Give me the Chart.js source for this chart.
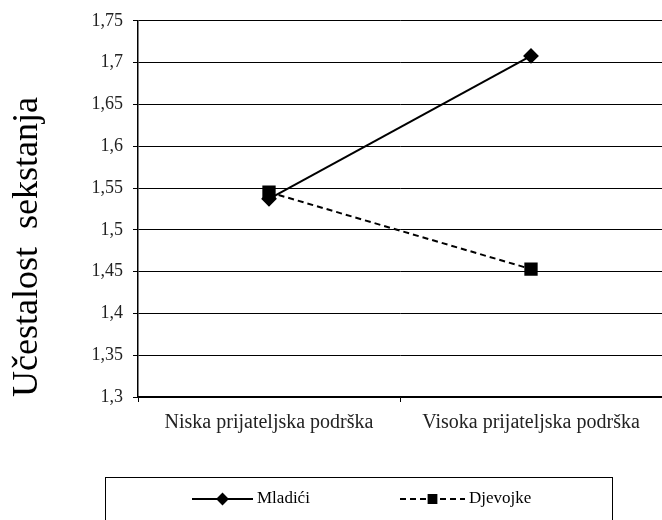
<!DOCTYPE html>
<html>
<head>
<meta charset="utf-8">
<script src="https://cdn.jsdelivr.net/npm/chart.js@4"></script>
<style>
  html, body { margin: 0; padding: 0; background: #fff; }
  #wrap { width: 662px; height: 520px; }
</style>
</head>
<body>
<div id="wrap"><canvas id="chart" width="662" height="520"></canvas></div>
<script>
const categories = ['Niska prijateljska podrška', 'Visoka prijateljska podrška'];
const mladici = [1.537, 1.708];
const djevojke = [1.545, 1.453];
const seriesNames = ['Mladići', 'Djevojke'];
const yTitle = 'Učestalost  sekstanja';

const serif = "'Liberation Serif', 'DejaVu Serif', serif";

// legend drawn in a box under the plot, line + marker like the original
const boxLegend = {
  id: 'boxLegend',
  afterDraw(chart) {
    const ctx = chart.ctx;
    const area = chart.chartArea;
    const top = area.bottom + 80;
    const left = area.left - 33;
    const right = area.right - 50;
    ctx.save();
    ctx.strokeStyle = '#000';
    ctx.lineWidth = 1;
    ctx.strokeRect(left + 0.5, top + 0.5, right - left, 60);
    const y = top + 22;
    const starts = [192, 400];
    const lens = [61, 65];
    chart.data.datasets.forEach((ds, i) => {
      const x0 = starts[i];
      ctx.beginPath();
      ctx.strokeStyle = '#000';
      ctx.setLineDash(ds.borderDash || []);
      ctx.lineWidth = 2;
      ctx.moveTo(x0, y);
      ctx.lineTo(x0 + lens[i], y);
      ctx.stroke();
      ctx.setLineDash([]);
      ctx.fillStyle = '#000';
      Chart.helpers.drawPoint(ctx, {
        pointStyle: ds.pointStyle,
        radius: ds.pointStyle === 'rect' ? 5.5 : 5,
        borderWidth: 1
      }, x0 + lens[i] / 2, y);
      ctx.fillStyle = '#000';
      ctx.font = '17px ' + serif;
      ctx.textBaseline = 'middle';
      ctx.textAlign = 'left';
      ctx.fillText(ds.label, x0 + lens[i] + 4, y);
    });
    ctx.restore();
  }
};

new Chart(document.getElementById('chart'), {
  type: 'line',
  data: {
    labels: categories,
    datasets: [{
      label: seriesNames[0],
      data: mladici,
      borderColor: '#000',
      backgroundColor: '#000',
      borderWidth: 2,
      pointStyle: 'rectRot',
      pointRadius: 6.5,
      tension: 0
    }, {
      label: seriesNames[1],
      data: djevojke,
      borderColor: '#000',
      backgroundColor: '#000',
      borderWidth: 2,
      borderDash: [6, 4],
      pointStyle: 'rect',
      pointRadius: 8,
      tension: 0
    }]
  },
  options: {
    responsive: false,
    animation: false,
    layout: { autoPadding: false, padding: { top: 19, right: 0, left: 0, bottom: 0 } },
    scales: {
      x: {
        offset: true,
        grid: { display: true, drawOnChartArea: false, offset: true, color: '#000', tickLength: 5 },
        border: { color: '#000', width: 1.5 },
        ticks: { color: '#222', font: { family: serif, size: 20 }, padding: 9, maxRotation: 0 },
        afterFit(scale) {
          scale.height = 123;
          scale.paddingLeft = 0;
          scale.paddingRight = 0;
        }
      },
      y: {
        min: 1.3,
        max: 1.75,
        ticks: {
          stepSize: 0.05,
          color: '#222',
          font: { family: serif, size: 18 },
          padding: 10,
          callback: v => String(Math.round(v * 100) / 100).replace('.', ',')
        },
        grid: { color: '#000', lineWidth: 1, tickLength: 5 },
        border: { color: '#000', width: 1.5 },
        title: {
          display: true,
          text: yTitle,
          align: 'start',
          color: '#000',
          font: { family: serif, size: 36 },
          padding: { top: 6, bottom: 10 }
        },
        afterFit(scale) { scale.width = 138; }
      }
    },
    plugins: {
      legend: { display: false },
      tooltip: { enabled: false }
    }
  },
  plugins: [boxLegend]
});
</script>
</body>
</html>
